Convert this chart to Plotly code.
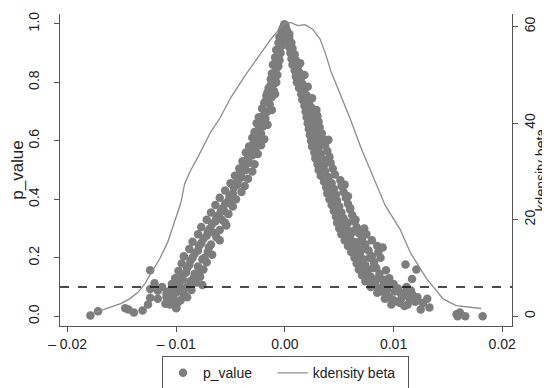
import plotly.graph_objects as go

# ---- scatter data: beta estimates and their p-values ----
beta_left = [
    -0.00005, -0.0001, -0.0002, -0.0003, -0.0002, -0.0005, -0.0002, -0.0006, -0.0003,
    -0.0008, -0.0004, -0.0009, -0.0005, -0.0011, -0.0006, -0.0008, -0.0012, -0.0007,
    -0.0013, -0.0008, -0.0010, -0.0015, -0.0010, -0.0017, -0.0012, -0.0009, -0.0019,
    -0.0014, -0.0021, -0.0016, -0.0012, -0.0024, -0.0018, -0.0026, -0.0020, -0.0016,
    -0.0028, -0.0022, -0.0030, -0.0025, -0.0019, -0.0033, -0.0027, -0.0022, -0.0036,
    -0.0030, -0.0025, -0.0039, -0.0033, -0.0028, -0.0042, -0.0036, -0.0030, -0.0046,
    -0.0040, -0.0034, -0.0050, -0.0044, -0.0037, -0.0055, -0.0048, -0.0040, -0.0060,
    -0.0052, -0.0045, -0.0064, -0.0057, -0.0048, -0.0068, -0.0061, -0.0052, -0.0056,
    -0.0072, -0.0064, -0.0055, -0.0077, -0.0069, -0.0060, -0.0054, -0.0080, -0.0072,
    -0.0063, -0.0085, -0.0077, -0.0068, -0.0060, -0.0088, -0.0080, -0.0071, -0.0093,
    -0.0085, -0.0076, -0.0067, -0.0095, -0.0088, -0.0080, -0.0072, -0.0098, -0.0091,
    -0.0083, -0.0075, -0.0101, -0.0094, -0.0087, -0.0078, -0.0104, -0.0097, -0.0090,
    -0.0076, -0.0082, -0.0107, -0.0100, -0.0093, -0.0086, -0.0109, -0.0103, -0.0096,
    -0.0106, -0.0099, -0.0100,
    -0.0124, -0.0120, -0.0124, -0.0117, -0.0124, -0.0117, -0.0126, -0.0131, -0.0147,
    -0.0144, -0.0139, -0.0179, -0.0172, -0.0109, -0.0110, -0.0113, -0.0100,
    -0.0004, -0.0006, -0.0009, -0.0011, -0.0013, -0.0016, -0.0017, -0.0019, -0.0022,
    -0.0024, -0.0027, -0.0029, -0.0031, -0.0034, -0.0038, -0.0041, -0.0043, -0.0047,
    -0.0051, -0.0055, -0.0059, -0.0063, -0.0067, -0.0071, -0.0075, -0.0079, -0.0083,
    -0.0087, -0.0090, -0.0094, -0.0098, -0.0070, -0.0065, -0.0058, -0.0050, -0.0088,
    -0.0084, -0.0079, -0.0074, -0.0101, -0.0095, -0.0090, -0.0105,
]
p_left = [
    0.998, 0.990, 0.985, 0.975, 0.965, 0.955, 0.945, 0.935, 0.925,
    0.910, 0.900, 0.885, 0.875, 0.860, 0.855, 0.845, 0.830, 0.825,
    0.810, 0.800, 0.795, 0.780, 0.770, 0.755, 0.750, 0.760, 0.730,
    0.725, 0.710, 0.700, 0.705, 0.680, 0.675, 0.660, 0.650, 0.655,
    0.630, 0.625, 0.610, 0.600, 0.605, 0.580, 0.575, 0.585, 0.560,
    0.550, 0.555, 0.530, 0.525, 0.520, 0.505, 0.500, 0.495, 0.480,
    0.475, 0.470, 0.455, 0.450, 0.445, 0.430, 0.420, 0.425, 0.405,
    0.395, 0.400, 0.380, 0.370, 0.375, 0.355, 0.345, 0.350, 0.360,
    0.330, 0.325, 0.320, 0.305, 0.300, 0.295, 0.310, 0.280, 0.275,
    0.270, 0.255, 0.250, 0.245, 0.260, 0.230, 0.225, 0.220, 0.205,
    0.200, 0.195, 0.210, 0.180, 0.175, 0.170, 0.185, 0.155, 0.150,
    0.145, 0.160, 0.130, 0.125, 0.120, 0.135, 0.110, 0.105, 0.100,
    0.107, 0.115, 0.085, 0.080, 0.075, 0.090, 0.065, 0.060, 0.055,
    0.040, 0.045, 0.027,
    0.157, 0.113, 0.093, 0.087, 0.063, 0.060, 0.040, 0.020, 0.027,
    0.023, 0.013, 0.003, 0.017, 0.077, 0.043, 0.100, 0.030,
    0.950, 0.890, 0.865, 0.815, 0.790, 0.765, 0.740, 0.690, 0.665,
    0.640, 0.615, 0.590, 0.565, 0.540, 0.515, 0.490, 0.465, 0.440,
    0.410, 0.385, 0.360, 0.340, 0.315, 0.290, 0.265, 0.240, 0.215,
    0.190, 0.165, 0.140, 0.115, 0.235, 0.285, 0.330, 0.385, 0.100,
    0.130, 0.155, 0.200, 0.095, 0.085, 0.065, 0.070,
]
beta_right = [
    0.00005, 0.0001, 0.0002, 0.0002, 0.0004, 0.0003, 0.0006, 0.0004, 0.0007,
    0.0005, 0.0009, 0.0006, 0.0010, 0.0007, 0.0012, 0.0014, 0.0009, 0.0013,
    0.0010, 0.0015, 0.0018, 0.0011, 0.0016, 0.0013, 0.0018, 0.0021, 0.0015,
    0.0020, 0.0016, 0.0022, 0.0025, 0.0018, 0.0024, 0.0019, 0.0025, 0.0029,
    0.0020, 0.0026, 0.0030, 0.0021, 0.0027, 0.0031, 0.0022, 0.0028, 0.0032,
    0.0023, 0.0029, 0.0034, 0.0024, 0.0031, 0.0040, 0.0035, 0.0025, 0.0031,
    0.0037, 0.0027, 0.0033, 0.0039, 0.0028, 0.0035, 0.0041, 0.0030, 0.0036,
    0.0042, 0.0031, 0.0037, 0.0044, 0.0033, 0.0040, 0.0046, 0.0036, 0.0043,
    0.0051, 0.0055, 0.0038, 0.0045, 0.0052, 0.0039, 0.0047, 0.0054, 0.0058,
    0.0041, 0.0048, 0.0056, 0.0043, 0.0050, 0.0058, 0.0060, 0.0045, 0.0052,
    0.0060, 0.0047, 0.0054, 0.0062, 0.0065, 0.0048, 0.0056, 0.0064, 0.0050,
    0.0058, 0.0066, 0.0073, 0.0052, 0.0060, 0.0068, 0.0075, 0.0055, 0.0063,
    0.0071, 0.0080, 0.0058, 0.0066, 0.0074, 0.0085, 0.0090, 0.0061, 0.0069,
    0.0077, 0.0086, 0.0064, 0.0072, 0.0080, 0.0088, 0.0066, 0.0074, 0.0082,
    0.0068, 0.0076, 0.0084, 0.0093, 0.0071, 0.0079, 0.0087, 0.0096, 0.0074,
    0.0083, 0.0091, 0.0100, 0.0079, 0.0087, 0.0095, 0.0104, 0.0112, 0.0085,
    0.0093, 0.0101, 0.0110, 0.0117, 0.0092, 0.0100, 0.0108, 0.0115, 0.0122,
    0.0098, 0.0106, 0.0113, 0.0120,
    0.0111, 0.0121, 0.0117, 0.0125, 0.0133, 0.0131, 0.0159, 0.0161, 0.0166,
    0.0158, 0.0182, 0.0110, 0.0127,
    0.0004, 0.0006, 0.0008, 0.0011, 0.0013, 0.0015, 0.0017, 0.0019, 0.0021,
    0.0023, 0.0024, 0.0025, 0.0026, 0.0028, 0.0030, 0.0031, 0.0033, 0.0034,
    0.0036, 0.0038, 0.0041, 0.0043, 0.0045, 0.0046, 0.0048, 0.0050, 0.0052,
    0.0054, 0.0056, 0.0058, 0.0061, 0.0064, 0.0067, 0.0070, 0.0072, 0.0075,
    0.0079, 0.0083, 0.0089, 0.0096, 0.0104, 0.0091, 0.0086, 0.0081, 0.0078,
    0.0072, 0.0068, 0.0063, 0.0058, 0.0094, 0.0107, 0.0116,
]
p_right = [
    0.995, 0.985, 0.975, 0.960, 0.955, 0.940, 0.935, 0.920, 0.915,
    0.900, 0.895, 0.880, 0.875, 0.860, 0.855, 0.865, 0.840, 0.835,
    0.820, 0.815, 0.825, 0.800, 0.795, 0.780, 0.775, 0.785, 0.760,
    0.755, 0.740, 0.735, 0.745, 0.720, 0.715, 0.700, 0.695, 0.705,
    0.680, 0.675, 0.685, 0.660, 0.655, 0.665, 0.640, 0.635, 0.645,
    0.620, 0.615, 0.625, 0.600, 0.595, 0.603, 0.605, 0.580, 0.575,
    0.585, 0.560, 0.555, 0.565, 0.540, 0.535, 0.545, 0.520, 0.515,
    0.525, 0.500, 0.495, 0.505, 0.480, 0.475, 0.485, 0.460, 0.455,
    0.465, 0.450, 0.440, 0.435, 0.445, 0.420, 0.415, 0.425, 0.410,
    0.400, 0.395, 0.405, 0.380, 0.375, 0.385, 0.370, 0.360, 0.355,
    0.365, 0.340, 0.335, 0.345, 0.330, 0.320, 0.315, 0.325, 0.300,
    0.295, 0.305, 0.300, 0.280, 0.275, 0.285, 0.280, 0.260, 0.255,
    0.265, 0.260, 0.240, 0.235, 0.245, 0.240, 0.235, 0.220, 0.215,
    0.225, 0.220, 0.200, 0.195, 0.205, 0.200, 0.180, 0.175, 0.185,
    0.160, 0.155, 0.165, 0.157, 0.140, 0.135, 0.145, 0.130, 0.120,
    0.115, 0.125, 0.110, 0.100, 0.095, 0.105, 0.095, 0.100, 0.080,
    0.075, 0.085, 0.080, 0.075, 0.060, 0.055, 0.065, 0.060, 0.065,
    0.040, 0.045, 0.040, 0.050,
    0.177, 0.160, 0.127, 0.023, 0.030, 0.060, 0.000, 0.013, 0.000,
    0.007, 0.000, 0.035, 0.045,
    0.965, 0.905, 0.870, 0.845, 0.810, 0.790, 0.765, 0.730, 0.710,
    0.690, 0.665, 0.630, 0.610, 0.590, 0.570, 0.550, 0.530, 0.510,
    0.490, 0.470, 0.450, 0.430, 0.410, 0.390, 0.370, 0.350, 0.330,
    0.310, 0.290, 0.270, 0.250, 0.230, 0.210, 0.190, 0.170, 0.145,
    0.125, 0.105, 0.085, 0.065, 0.050, 0.110, 0.130, 0.165, 0.200,
    0.230, 0.255, 0.290, 0.320, 0.090, 0.075, 0.088,
]
beta = beta_left + beta_right
p_value = p_left + p_right

# ---- kernel density of beta ----
kd_x = [
    -0.01742, -0.01631, -0.01512, -0.01429, -0.01355, -0.01290, -0.01217, -0.01152,
    -0.01078, -0.01005, -0.00959, -0.00922, -0.00866, -0.00802, -0.00682, -0.00599,
    -0.00498, -0.00359, -0.00230, -0.00129, -0.00037, 0.00009, 0.00055, 0.00120,
    0.00185, 0.00258, 0.00323, 0.00369, 0.00424, 0.00507, 0.00599, 0.00700,
    0.00829, 0.00922, 0.01060, 0.01152, 0.01300, 0.01456, 0.01576, 0.01806,
]
kd_y = [
    0.8, 1.6, 2.6, 3.6, 4.9, 6.7, 9.3, 11.9,
    15.4, 20.4, 23.4, 27.5, 30.3, 32.9, 38.2, 41.0,
    45.3, 50.1, 54.1, 57.4, 59.8, 60.8, 60.8, 60.2,
    60.4, 59.4, 57.4, 54.7, 50.7, 46.1, 41.0, 34.9,
    28.1, 23.0, 18.0, 13.3, 7.9, 3.6, 2.2, 1.6,
]

x_ticks = [-0.02, -0.01, 0.0, 0.01, 0.02]
x_ticktext = ["\u2013 0.02", "\u2013 0.01", "0.00", "0.01", "0.02"]
y_ticks = [0.0, 0.2, 0.4, 0.6, 0.8, 1.0]
y2_ticks = [0, 20, 40, 60]
p_ref = 0.1

FONT = "Liberation Sans, Arial, sans-serif"
AXC = "#555555"
NB = "\u00a0"

fig = go.Figure()
fig.add_trace(go.Scatter(
    x=beta, y=p_value, mode="markers", name="p_value" + NB * 4,
    marker=dict(color="#7d7d7d", size=8.5, line=dict(width=0)),
))
fig.add_trace(go.Scatter(
    x=kd_x, y=kd_y, mode="lines", name="kdensity beta" + NB * 2, yaxis="y2",
    line=dict(color="#8c8c8c", width=1.3),
))
fig.add_shape(type="line", xref="paper", x0=0, x1=1, yref="y", y0=p_ref, y1=p_ref,
              line=dict(color="#111111", width=1.6, dash="dash"))

# right-hand axis title as an annotation (keeps it inside the narrow right margin)
fig.add_annotation(text="kdensity beta", xref="paper", yref="paper", x=1.065, y=0.5,
                   textangle=-90, showarrow=False, font=dict(size=14),
                   xanchor="center", yanchor="middle")

fig.update_layout(
    width=550, height=388,
    margin=dict(l=52, r=46, t=6, b=62),
    paper_bgcolor="white", plot_bgcolor="white",
    font=dict(family=FONT, size=14, color="#222222"),
    showlegend=True,
    legend=dict(
        orientation="h", x=0.2257, xanchor="left", y=-0.097, yanchor="top",
        bordercolor=AXC, borderwidth=1, font=dict(size=14),
        tracegroupgap=0, itemwidth=30,
    ),
    xaxis=dict(
        range=[-0.0207, 0.0209], tickvals=x_ticks, ticktext=x_ticktext,
        showgrid=False, zeroline=False, showline=True, linecolor=AXC, linewidth=1,
        ticks="outside", ticklen=5, tickcolor=AXC, automargin=False,
    ),
    yaxis=dict(
        range=[-0.0333, 1.0333], tickvals=y_ticks, tickformat=".1f",
        showgrid=False, zeroline=False, showline=True, linecolor=AXC, linewidth=1,
        ticks="outside", ticklen=5, tickcolor=AXC, tickangle=-90,
        ticklabelstandoff=9, automargin=False,
        title=dict(text="p_value", standoff=5),
    ),
    yaxis2=dict(
        range=[-2.02, 62.6], tickvals=y2_ticks, overlaying="y", side="right",
        showgrid=False, zeroline=False, showline=True, linecolor=AXC, linewidth=1,
        ticks="outside", ticklen=5, tickcolor=AXC, tickangle=-90, automargin=False,
    ),
)

fig.write_html("out.html")
